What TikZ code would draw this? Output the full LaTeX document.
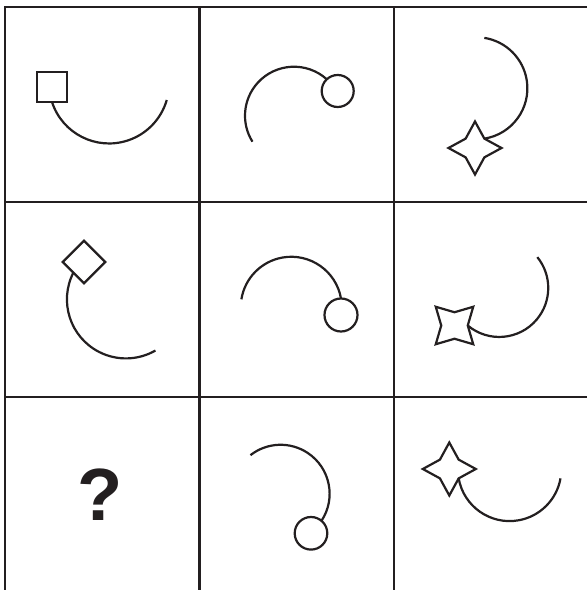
\documentclass[tikz,border=0pt]{standalone}
\usepackage{fontspec}
\setmainfont{Liberation Sans}
\usetikzlibrary{shapes.geometric}
\definecolor{ink}{RGB}{35,31,32}
\begin{document}
\begin{tikzpicture}[x=1pt,y=1pt,
  gridline/.style={draw=ink, line width=2.4pt},
  shp/.style={draw=ink, line width=2.2pt, inner sep=0pt, outer sep=0pt},
  curve/.style={draw=ink, line width=2.2pt},
  sqshape/.style={shp, rectangle, minimum size=30pt},
  ringshape/.style={shp, circle, minimum size=32pt},
  dmshape/.style={shp, diamond, minimum width=42.5pt, minimum height=42.5pt},
  starshape/.style={shp, star, star points=4, star point ratio=2, minimum size=53pt}]
\useasboundingbox (0,0) rectangle (587,590);
% grid
\draw[gridline] (4,583) -- (587,583);
\draw[gridline] (4,388) -- (587,388);
\draw[gridline] (4,193) -- (587,193);
\draw[gridline] (5,583) -- (5,0);
\draw[gridline] (199.5,583) -- (199.5,0);
\draw[gridline] (394,583) -- (394,0);
% row 1
\node[sqshape] (sq1) at (52,503) {};
\draw[curve] (sq1.south) arc[start angle=198, end angle=344, radius=60pt];
\node[ringshape] (c2) at (337.7,499) {};
\draw[curve] (c2.133) arc[start angle=48, end angle=212, radius=49pt];
\node[starshape] (st3) at (475,442) {};
\draw[curve] (st3.45) arc[start angle=-81, end angle=81, radius=51pt];
% row 2
\node[dmshape] (d4) at (84,328) {};
\draw[curve] (d4.225) arc[start angle=153, end angle=300, radius=59pt];
\node[ringshape, minimum size=33pt] (c5) at (341,275) {};
\draw[curve] (c5.north) arc[start angle=10, end angle=171, radius=50.5pt];
\node[starshape, shape border rotate=45] (st6) at (454.5,264.5) {};
\draw[curve] (st6.0) arc[start angle=-130, end angle=39, radius=49pt];
% row 3
\node[inner sep=0pt, text=ink] (q7) at (100.3,95.5) {\fontsize{74}{74}\selectfont\bfseries ?};
\node[ringshape, minimum size=32.6pt] (c8) at (311,56.7) {};
\draw[curve] (c8.50) arc[start angle=-33.5, end angle=128, radius=49pt];
\node[starshape] (st9) at (449.3,121) {};
\draw[curve] (st9.-45) arc[start angle=190, end angle=350, radius=51.7pt];
\end{tikzpicture}
\end{document}
